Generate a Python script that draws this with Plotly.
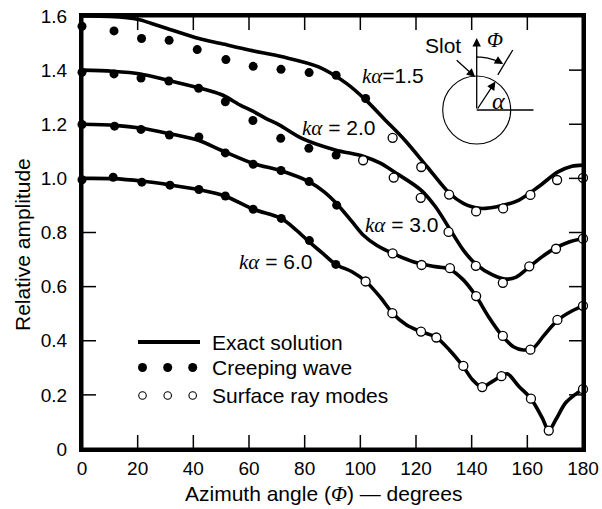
import plotly.graph_objects as go
import math

# ---------------- data ----------------
# Exact solution curves (relative amplitude vs azimuth angle, degrees)
exact_x_15 = [0, 10, 20, 25, 30, 42, 50, 60, 72, 85, 95, 102, 109, 116, 124, 132, 137, 143, 149, 157, 164, 171, 176, 180]
exact_y_15 = [1.600, 1.598, 1.588, 1.572, 1.556, 1.517, 1.498, 1.474, 1.449, 1.412, 1.351, 1.289, 1.215, 1.141, 1.043, 0.945, 0.908, 0.889, 0.895, 0.920, 0.969, 1.024, 1.045, 1.049]

exact_x_20 = [0, 11, 21, 31, 42, 50, 57, 61, 66, 71, 79, 91, 101, 107, 112, 122, 127, 132, 137, 141.5, 147.5, 152, 156, 160.6, 165, 170, 175, 180]
exact_y_20 = [1.400, 1.396, 1.386, 1.362, 1.335, 1.310, 1.270, 1.250, 1.222, 1.197, 1.148, 1.105, 1.082, 1.057, 1.025, 0.955, 0.895, 0.815, 0.735, 0.683, 0.643, 0.628, 0.635, 0.672, 0.708, 0.742, 0.765, 0.778]

exact_x_30 = [0, 12, 21, 31, 42, 50, 61.5, 71.5, 81.5, 87, 92, 97, 101, 106, 111.6, 119, 126, 132, 137, 141.5, 146, 151, 155, 158.5, 162, 166, 171, 176, 180]
exact_y_30 = [1.200, 1.196, 1.186, 1.166, 1.140, 1.104, 1.055, 1.028, 0.988, 0.950, 0.901, 0.840, 0.791, 0.752, 0.723, 0.692, 0.675, 0.665, 0.625, 0.566, 0.490, 0.418, 0.378, 0.366, 0.372, 0.420, 0.477, 0.510, 0.529]

exact_x_60 = [0, 11, 21.5, 31.5, 42, 51.5, 61.5, 71.5, 77, 81.5, 86.5, 91.2, 97, 102, 107, 111.6, 116.5, 121.7, 127.3, 132, 136.8, 140.3, 143.7, 147.5, 150.7, 152.8, 157, 161.3, 165.4, 167.7, 170.2, 173.7, 177, 180]
exact_y_60 = [1.000, 0.999, 0.990, 0.976, 0.958, 0.934, 0.886, 0.852, 0.809, 0.766, 0.723, 0.682, 0.655, 0.619, 0.563, 0.502, 0.459, 0.434, 0.412, 0.366, 0.307, 0.256, 0.229, 0.250, 0.270, 0.278, 0.231, 0.186, 0.114, 0.068, 0.108, 0.170, 0.200, 0.221]

# Creeping wave (filled dots)
creep_x_15 = [0, 11.5, 21.4, 31.3, 41.4, 51.7, 61.5, 71.5, 81.6, 91.3, 101.9]
creep_y_15 = [1.562, 1.545, 1.517, 1.510, 1.476, 1.439, 1.414, 1.403, 1.391, 1.381, 1.295]
creep_x_20 = [0, 11.5, 21.2, 31.2, 41.9, 51.5, 61.4, 71.4, 81.5, 91.3]
creep_y_20 = [1.392, 1.386, 1.371, 1.360, 1.333, 1.283, 1.214, 1.148, 1.111, 1.086]
creep_x_30 = [0, 11.7, 21.2, 31.4, 42, 51.5, 61.5, 71.5, 81.6, 91.5]
creep_y_30 = [1.199, 1.193, 1.181, 1.160, 1.153, 1.094, 1.052, 1.029, 0.988, 0.901]
creep_x_60 = [0, 11.2, 21.5, 31.6, 42, 51.5, 61.5, 71.6, 81.7, 91.2]
creep_y_60 = [0.995, 1.004, 0.986, 0.975, 0.959, 0.935, 0.886, 0.852, 0.770, 0.682]

# Surface ray modes (open circles)
ray_x_15 = [111.6, 121.9, 131.9, 141.6, 151.3, 161.1, 170.7, 180]
ray_y_15 = [1.150, 1.042, 0.940, 0.878, 0.889, 0.939, 0.994, 1.002]
ray_x_20 = [101, 112, 121.7, 131.7, 141.5, 151.2, 160.7, 170.3, 180]
ray_y_20 = [1.067, 1.003, 0.928, 0.802, 0.677, 0.614, 0.675, 0.740, 0.777]
ray_x_30 = [111.6, 122, 132.2, 141.6, 151.2, 161.1, 170.8, 180]
ray_y_30 = [0.723, 0.680, 0.668, 0.565, 0.418, 0.367, 0.477, 0.529]
ray_x_60 = [101.9, 111.5, 121.8, 127.3, 137, 143.8, 150.7, 161.3, 167.7, 180]
ray_y_60 = [0.619, 0.502, 0.434, 0.412, 0.307, 0.229, 0.269, 0.186, 0.068, 0.221]

curve_labels = ["1.5", "2.0", "3.0", "6.0"]
x_ticks = [0, 20, 40, 60, 80, 100, 120, 140, 160, 180]
y_ticks = [0, 0.2, 0.4, 0.6, 0.8, 1.0, 1.2, 1.4, 1.6]
y_ticktext = ["0", "0.2", "0.4", "0.6", "0.8", "1.0", "1.2", "1.4", "1.6"]
legend_names = ["Exact solution", "Creeping wave", "Surface ray modes"]

# ---------------- layout geometry ----------------
W, H = 602, 509
ML, MR, MT, MB = 82, 19, 16, 60
PL, PR, PT, PB = ML, W - MR, MT, H - MB
XMAX, YMAX = 180.0, 1.6
TICKLEN = 14
FRAME_W = 3.0
TICK_W = 1.5


def px2x(px):
    return (px - PL) / (PR - PL) * XMAX


def py2y(py):
    return (PB - py) / (PB - PT) * YMAX


def px2paper(px):
    return (px - PL) / (PR - PL)


def py2paper(py):
    return (PB - py) / (PB - PT)


def x2px(x):
    return PL + x / XMAX * (PR - PL)


def y2py(y):
    return PB - y / YMAX * (PB - PT)


SANS = "Liberation Sans, Arial, Helvetica, sans-serif"
SERIF = "Liberation Serif, Times New Roman, serif"


def it(s):
    return '<span style="font-family:Liberation Serif;font-style:italic">' + s + '</span>'


def rect_path(x0, y0, x1, y1, reverse=False):
    pts = [(x0, y0), (x1, y0), (x1, y1), (x0, y1)]
    if reverse:
        pts = pts[::-1]
    return "M " + " L ".join(f"{px2paper(a):.5f},{py2paper(b):.5f}" for a, b in pts) + " Z"


fig = go.Figure()

exact = [(exact_x_15, exact_y_15), (exact_x_20, exact_y_20), (exact_x_30, exact_y_30), (exact_x_60, exact_y_60)]
for ex, ey in exact:
    fig.add_trace(go.Scatter(x=ex, y=ey, mode="lines", line=dict(color="black", width=3.6, shape="spline", smoothing=0.9),
                             showlegend=False, cliponaxis=False, hoverinfo="skip"))

for cx, cy in [(creep_x_15, creep_y_15), (creep_x_20, creep_y_20), (creep_x_30, creep_y_30), (creep_x_60, creep_y_60)]:
    fig.add_trace(go.Scatter(x=cx, y=cy, mode="markers", marker=dict(color="black", size=9),
                             showlegend=False, cliponaxis=False))

# ---------------- hand-drawn legend ----------------
leg_rows_py = [342, 367.5, 395.5]
leg_dot_px = [142.5, 167.7, 192.7]
fig.add_trace(go.Scatter(x=[px2x(138), px2x(200)], y=[py2y(leg_rows_py[0])] * 2, mode="lines",
                         line=dict(color="black", width=4), showlegend=False, hoverinfo="skip"))
fig.add_trace(go.Scatter(x=[px2x(p) for p in leg_dot_px], y=[py2y(leg_rows_py[1])] * 3, mode="markers",
                         marker=dict(color="black", size=9), showlegend=False, hoverinfo="skip"))
fig.add_trace(go.Scatter(x=[px2x(p) for p in leg_dot_px], y=[py2y(leg_rows_py[2])] * 3, mode="markers",
                         marker=dict(color="white", size=7.5, line=dict(color="black", width=1.1)),
                         showlegend=False, hoverinfo="skip"))

annotations = []
for name, py in zip(legend_names, leg_rows_py):
    annotations.append(dict(x=px2x(210), y=py2y(py), xref="x", yref="y", text=name, showarrow=False,
                            xanchor="left", yanchor="middle", font=dict(family=SANS, size=21, color="black")))

# ---------------- curve labels ----------------
label_pos = [(360, 76, "="), (300, 128, " = "), (363, 225, " = "), (237, 262, " = ")]
for lab, (lx, ly, eq) in zip(curve_labels, label_pos):
    annotations.append(dict(x=px2x(lx), y=py2y(ly), xref="x", yref="y", text=it("kα") + eq + lab,
                            showarrow=False, xanchor="left", yanchor="middle",
                            font=dict(family=SANS, size=21, color="black")))

# ---------------- axis titles ----------------
annotations.append(dict(x=px2paper(323), y=py2paper(494), xref="paper", yref="paper",
                        text="Azimuth angle (" + it("Φ") + ") — degrees", showarrow=False,
                        xanchor="center", yanchor="middle", font=dict(family=SANS, size=21, color="black")))
annotations.append(dict(x=px2paper(22), y=py2paper(245), xref="paper", yref="paper", text="Relative amplitude",
                        textangle=-90, showarrow=False, xanchor="center", yanchor="middle",
                        font=dict(family=SANS, size=21, color="black")))

shapes = []
# ---------------- frame (filled ring) and inside ticks (filled bars), paper referenced ----------------
hw = FRAME_W / 2
frame_path = rect_path(PL - hw, PT - hw, PR + hw, PB + hw) + " " + rect_path(PL + hw, PT + hw, PR - hw, PB - hw, reverse=True)
shapes.append(dict(type="path", xref="paper", yref="paper", path=frame_path, fillcolor="black",
                   fillrule="evenodd", line=dict(width=0), layer="above"))
tw = TICK_W / 2
for xv in x_ticks[1:-1]:
    p = x2px(xv)
    shapes.append(dict(type="rect", xref="paper", yref="paper", x0=px2paper(p - tw), x1=px2paper(p + tw),
                       y0=py2paper(PB), y1=py2paper(PB - TICKLEN), fillcolor="black", line=dict(width=0)))
    shapes.append(dict(type="rect", xref="paper", yref="paper", x0=px2paper(p - tw), x1=px2paper(p + tw),
                       y0=py2paper(PT + TICKLEN), y1=py2paper(PT), fillcolor="black", line=dict(width=0)))
for yv in y_ticks[1:-1]:
    q = y2py(yv)
    shapes.append(dict(type="rect", xref="paper", yref="paper", x0=px2paper(PL), x1=px2paper(PL + TICKLEN),
                       y0=py2paper(q + tw), y1=py2paper(q - tw), fillcolor="black", line=dict(width=0)))
    shapes.append(dict(type="rect", xref="paper", yref="paper", x0=px2paper(PR - TICKLEN), x1=px2paper(PR),
                       y0=py2paper(q + tw), y1=py2paper(q - tw), fillcolor="black", line=dict(width=0)))

# ---------------- inset diagram ----------------
cx_px, cy_px, r_px = 476.7, 110.0, 34.0
shapes.append(dict(type="circle", xref="x", yref="y",
                   x0=px2x(cx_px - r_px), x1=px2x(cx_px + r_px), y0=py2y(cy_px + r_px), y1=py2y(cy_px - r_px),
                   line=dict(color="black", width=1.1)))
shapes.append(dict(type="line", xref="x", yref="y", x0=px2x(cx_px), y0=py2y(cy_px), x1=px2x(533.5), y1=py2y(cy_px),
                   line=dict(color="black", width=1.3)))
phi = math.radians(31)
shapes.append(dict(type="line", xref="x", yref="y",
                   x0=px2x(cx_px + 41 * math.sin(phi)), y0=py2y(cy_px - 41 * math.cos(phi)),
                   x1=px2x(cx_px + 70 * math.sin(phi)), y1=py2y(cy_px - 70 * math.cos(phi)),
                   line=dict(color="black", width=1.3)))
arc_r = 53
pts = []
for i in range(0, 29):
    t = math.radians(i)
    pts.append((px2x(cx_px + arc_r * math.sin(t)), py2y(cy_px - arc_r * math.cos(t))))
path = "M " + " L ".join(f"{a:.4f},{b:.5f}" for a, b in pts)
shapes.append(dict(type="path", xref="x", yref="y", path=path, line=dict(color="black", width=1.3)))

arrow_common = dict(xref="x", yref="y", axref="pixel", ayref="pixel", showarrow=True, text="",
                    arrowhead=2, arrowsize=1.3, arrowwidth=1.3, arrowcolor="black", standoff=0)
annotations.append(dict(x=px2x(cx_px), y=py2y(38), ax=0, ay=cy_px - 38, **arrow_common))
ang = math.radians(56.6)
tipx, tipy = cx_px + r_px * math.cos(ang), cy_px - r_px * math.sin(ang)
annotations.append(dict(x=px2x(tipx), y=py2y(tipy), ax=cx_px - tipx, ay=cy_px - tipy, **arrow_common))
t = math.radians(30)
hx, hy = cx_px + arc_r * math.sin(t), cy_px - arc_r * math.cos(t)
annotations.append(dict(x=px2x(hx), y=py2y(hy), ax=-9 * math.cos(t), ay=-9 * math.sin(t), **arrow_common))
annotations.append(dict(x=px2x(cx_px - 1.5), y=py2y(cy_px - r_px + 1), ax=-20, ay=-18, **arrow_common))

annotations.append(dict(x=px2x(443), y=py2y(45), xref="x", yref="y", text="Slot", showarrow=False,
                        xanchor="center", yanchor="middle", font=dict(family=SANS, size=21, color="black")))
annotations.append(dict(x=px2x(495), y=py2y(40), xref="x", yref="y", text=it("Φ"), showarrow=False,
                        xanchor="center", yanchor="middle", font=dict(family=SERIF, size=21, color="black")))
annotations.append(dict(x=px2x(498), y=py2y(101), xref="x", yref="y", text=it("α"), showarrow=False,
                        xanchor="center", yanchor="middle", font=dict(family=SERIF, size=24, color="black")))

axis_common = dict(showgrid=False, zeroline=False, showline=True, linecolor="black", linewidth=3,
                   mirror=True, ticks="", automargin=False,
                   tickfont=dict(family=SANS, size=19, color="black"))

# open circles last so they sit on top of the curves
for rx, ry in [(ray_x_15, ray_y_15), (ray_x_20, ray_y_20), (ray_x_30, ray_y_30), (ray_x_60, ray_y_60)]:
    fig.add_trace(go.Scatter(x=rx, y=ry, mode="markers",
                             marker=dict(color="white", size=9, line=dict(color="black", width=1.3)),
                             showlegend=False, cliponaxis=False))

fig.update_layout(
    template="none",
    width=W, height=H,
    margin=dict(l=ML, r=MR, t=MT, b=MB, pad=0, autoexpand=False),
    paper_bgcolor="white", plot_bgcolor="rgba(0,0,0,0)",
    showlegend=False,
    xaxis=dict(range=[0, XMAX], tickvals=x_ticks, ticktext=[str(v) for v in x_ticks], **axis_common),
    yaxis=dict(range=[0, YMAX], tickvals=y_ticks, ticktext=y_ticktext, ticklabelstandoff=8, **axis_common),
    annotations=annotations,
    shapes=shapes,
)

fig.write_html("out.html", config={"displayModeBar": False, "staticPlot": True},
               post_script="document.body.style.margin='0px';")
